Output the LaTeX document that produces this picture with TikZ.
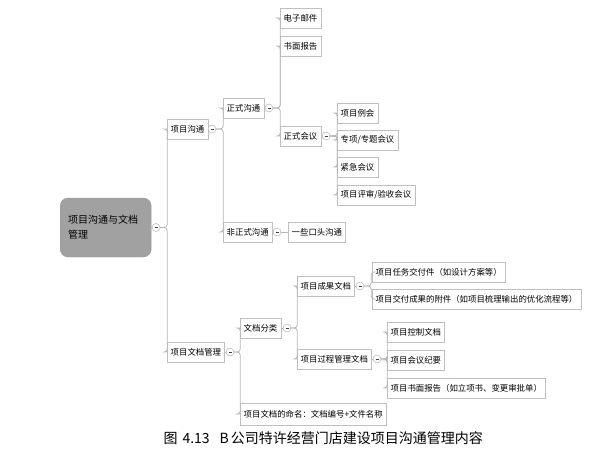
\documentclass[tikz,border=0pt]{standalone}
\usepackage{fontspec}
\setmainfont{Noto Sans CJK SC}

\begin{document}
\begin{tikzpicture}[x=1pt, y=-1pt,
	topic/.style={draw=black!25, fill=white, anchor=west, minimum height=20pt, inner xsep=3.5pt, inner ysep=0pt, font=\fontsize{8.4}{10}\selectfont, text=black},
	fold/.style={circle, draw=black!35, fill=white, minimum size=8pt, inner sep=0pt, text=black!75},
	link/.style={draw=black!28, line width=0.8pt, rounded corners=3pt}]
	\useasboundingbox[fill=white] (0,0) rectangle (604,453);
	% central topic
	\node[draw=black!40, fill=black!37, rounded corners=8pt, anchor=west, minimum width=91pt, minimum height=59pt, text width=75pt, inner xsep=8pt, align=left, font=\fontsize{10}{15}\selectfont, text=black] (root) at (60,227.5) {项目沟通与文档\\管理};
	\node[fold] (f0) at (156,227.5) {\rule{3pt}{0.9pt}};
	% communication branch
	\node[topic] (comm) at (167,129) {项目沟通};
	\node[fold] (f1) at (212,129) {\rule{3pt}{0.9pt}};
	\node[topic] (formal) at (223,108) {正式沟通};
	\node[fold] (f2) at (269,108) {\rule{3pt}{0.9pt}};
	\node[topic] (mail) at (280,18) {电子邮件};
	\node[topic] (report) at (280,46) {书面报告};
	\node[topic] (meet) at (280,136) {正式会议};
	\node[fold] (f3) at (326,136) {\rule{3pt}{0.9pt}};
	\node[topic] (m1) at (337,113) {项目例会};
	\node[topic] (m2) at (337,140) {专项/专题会议};
	\node[topic] (m3) at (337,167) {紧急会议};
	\node[topic] (m4) at (337,195) {项目评审/验收会议};
	\node[topic] (informal) at (223,232) {非正式沟通};
	\node[fold] (f4) at (277,232) {\rule{3pt}{0.9pt}};
	\node[topic] (oral) at (288,232) {一些口头沟通};
	% document branch
	\node[topic] (docs) at (167,352) {项目文档管理};
	\node[fold] (f5) at (230,352) {\rule{3pt}{0.9pt}};
	\node[topic] (kind) at (240,328) {文档分类};
	\node[fold] (f6) at (287,328) {\rule{3pt}{0.9pt}};
	\node[topic] (result) at (297,286) {项目成果文档};
	\node[fold] (f7) at (360,286) {\rule{3pt}{0.9pt}};
	\node[topic] (r1) at (372,272) {项目任务交付件（如设计方案等）};
	\node[topic] (r2) at (372,299) {项目交付成果的附件（如项目梳理输出的优化流程等）};
	\node[topic] (process) at (297,359) {项目过程管理文档};
	\node[fold] (f8) at (377,359) {\rule{3pt}{0.9pt}};
	\node[topic] (p1) at (387,332) {项目控制文档};
	\node[topic] (p2) at (387,360) {项目会议纪要};
	\node[topic] (p3) at (387,388) {项目书面报告（如立项书、变更审批单）};
	\node[topic, minimum height=22pt] (naming) at (240,414) {项目文档的命名：文档编号+文件名称};
	% connectors
	\draw[link] (root.east) -- (f0.west);
	\foreach \k in {comm,docs} \draw[link] (f0.east) -- ++(7,0) |- (\k.west);
	\draw[link] (comm.east) -- (f1.west);
	\foreach \k in {formal,informal} \draw[link] (f1.east) -- ++(7,0) |- (\k.west);
	\draw[link] (formal.east) -- (f2.west);
	\foreach \k in {mail,report,meet} \draw[link] (f2.east) -- ++(7,0) |- (\k.west);
	\draw[link] (meet.east) -- (f3.west);
	\foreach \k in {m1,m2,m3,m4} \draw[link] (f3.east) -- ++(7,0) |- (\k.west);
	\draw[link] (informal.east) -- (f4.west);
	\draw[link] (f4.east) -- (oral.west);
	\draw[link] (docs.east) -- (f5.west);
	\foreach \k in {kind,naming} \draw[link] (f5.east) -- ++(6,0) |- (\k.west);
	\draw[link] (kind.east) -- (f6.west);
	\foreach \k in {result,process} \draw[link] (f6.east) -- ++(6,0) |- (\k.west);
	\draw[link] (result.east) -- (f7.west);
	\foreach \k in {r1,r2} \draw[link] (f7.east) -- ++(7,0) |- (\k.west);
	\draw[link] (process.east) -- (f8.west);
	\foreach \k in {p1,p2,p3} \draw[link] (f8.east) -- ++(6,0) |- (\k.west);
	% caption
	\node[anchor=west, font=\fontsize{14}{16}\selectfont, text=black] (cap) at (160,438) {图\hspace{5pt}4.13\hspace{10pt}B\hspace{2pt}公司特许经营门店建设项目沟通管理内容};
\end{tikzpicture}
\end{document}
